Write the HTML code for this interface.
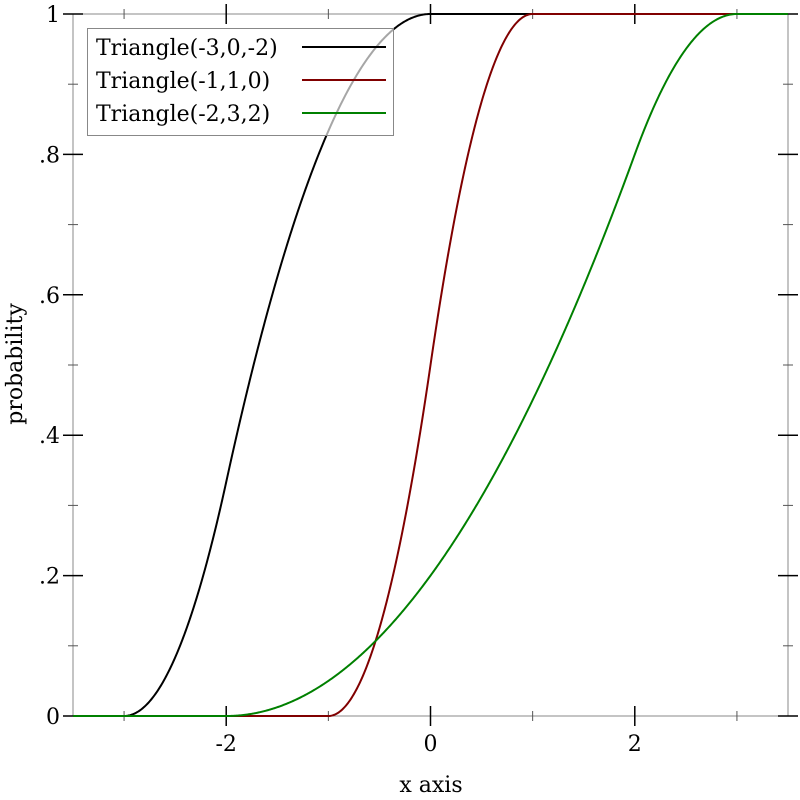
<!DOCTYPE html>
<html><head><meta charset="utf-8"><style>
html,body{margin:0;padding:0;background:#fff;}
svg{display:block;font-family:"DejaVu Serif","Liberation Serif",serif;}
</style></head><body>
<svg id="chart" width="800" height="800" viewBox="0 0 800 800" xmlns="http://www.w3.org/2000/svg"></svg>
<script>
// Data: triangle distribution parameters (min, max, mode) per series
const seriesNames = ["Triangle(-3,0,-2)", "Triangle(-1,1,0)", "Triangle(-2,3,2)"];
const seriesMin = [-3, -1, -2];
const seriesMax = [0, 1, 3];
const seriesMode = [-2, 0, 2];
const seriesColors = ["#000000", "#800000", "#008000"];
const xTicks = [-2, 0, 2];
const xTickLabels = ["-2", "0", "2"];
const xMinorTicks = [-3, -1, 1, 3];
const yTicks = [0, 0.2, 0.4, 0.6, 0.8, 1];
const yTickLabels = ["0", ".2", ".4", ".6", ".8", "1"];
const yMinorTicks = [0.1, 0.3, 0.5, 0.7, 0.9];

const NS = "http://www.w3.org/2000/svg";
const svg = document.getElementById("chart");
const L = 73, R = 788, T = 14, B = 716;
const xmin = -3.5, xmax = 3.5;
const FS = 22;
const sx = v => L + (v - xmin) / (xmax - xmin) * (R - L);
const sy = v => B - v * (B - T);
function el(tag, attrs, parent) {
  const e = document.createElementNS(NS, tag);
  for (const k in attrs) e.setAttribute(k, attrs[k]);
  (parent || svg).appendChild(e);
  return e;
}
function cdf(x, a, b, c) {
  if (x <= a) return 0;
  if (x >= b) return 1;
  if (x <= c) return (x - a) * (x - a) / ((b - a) * (c - a));
  return 1 - (b - x) * (b - x) / ((b - a) * (b - c));
}
const frame = el("rect", {x: L, y: T, width: R - L, height: B - T, fill: "none", stroke: "#888", "stroke-width": 1});


xTicks.forEach((v, i) => {
  const x = sx(v);
  const t1 = el("line", {x1: x, x2: x, y1: B - 10, y2: B + 10, stroke: "#000", "stroke-width": 1.5});
  
  
  const t2 = el("line", {x1: x, x2: x, y1: T - 10, y2: T + 10, stroke: "#000", "stroke-width": 1.5});
  
  
  const lbl = el("text", {x: x, y: 751, "text-anchor": "middle", "font-size": FS, fill: "#000"});
  lbl.textContent = xTickLabels[i];
  
  
});
xMinorTicks.forEach(v => {
  const x = sx(v);
  const t1 = el("line", {x1: x, x2: x, y1: B - 5, y2: B + 5, stroke: "#555", "stroke-width": 1});
  
  
  const t2 = el("line", {x1: x, x2: x, y1: T - 5, y2: T + 5, stroke: "#555", "stroke-width": 1});
  
  
});
yTicks.forEach((v, i) => {
  const y = sy(v);
  const t1 = el("line", {x1: L - 10, x2: L + 10, y1: y, y2: y, stroke: "#000", "stroke-width": 1.5});
  
  
  const t2 = el("line", {x1: R - 10, x2: R + 10, y1: y, y2: y, stroke: "#000", "stroke-width": 1.5});
  
  
  const lbl = el("text", {x: 60, y: y + 8, "text-anchor": "end", "font-size": FS, fill: "#000"});
  lbl.textContent = yTickLabels[i];
  
  
});
yMinorTicks.forEach(v => {
  const y = sy(v);
  const t1 = el("line", {x1: L - 5, x2: L + 5, y1: y, y2: y, stroke: "#555", "stroke-width": 1});
  
  
  const t2 = el("line", {x1: R - 5, x2: R + 5, y1: y, y2: y, stroke: "#555", "stroke-width": 1});
  
  
});
const xt = el("text", {x: 431, y: 792, "text-anchor": "middle", "font-size": FS, fill: "#000"});
xt.textContent = "x axis";


const yt = el("text", {x: 0, y: 0, "text-anchor": "middle", "font-size": FS, fill: "#000", transform: "translate(22,364) rotate(-90)"});
yt.textContent = "probability";


seriesNames.forEach((name, i) => {
  let d = "";
  const N = 700;
  for (let k = 0; k <= N; k++) {
    const xv = xmin + (xmax - xmin) * k / N;
    const yv = cdf(xv, seriesMin[i], seriesMax[i], seriesMode[i]);
    d += (k ? "L" : "M") + sx(xv).toFixed(2) + "," + sy(yv).toFixed(2);
  }
  const p = el("path", {d: d, fill: "none", stroke: seriesColors[i], "stroke-width": 2});
  
  
});
const lg = el("g", {});


el("rect", {x: 87.5, y: 28.5, width: 306, height: 107, fill: "rgba(255,255,255,0.65)", stroke: "#888", "stroke-width": 1}, lg);
seriesNames.forEach((name, i) => {
  const y = 47 + i * 33;
  const g = el("g", {}, lg);
  
  
  const t = el("text", {x: 96, y: y + 8, "font-size": FS, fill: "#000"}, g);
  t.textContent = name;
  el("line", {x1: 302, x2: 386, y1: y, y2: y, stroke: seriesColors[i], "stroke-width": 2}, g);
});
</script>
</body></html>
